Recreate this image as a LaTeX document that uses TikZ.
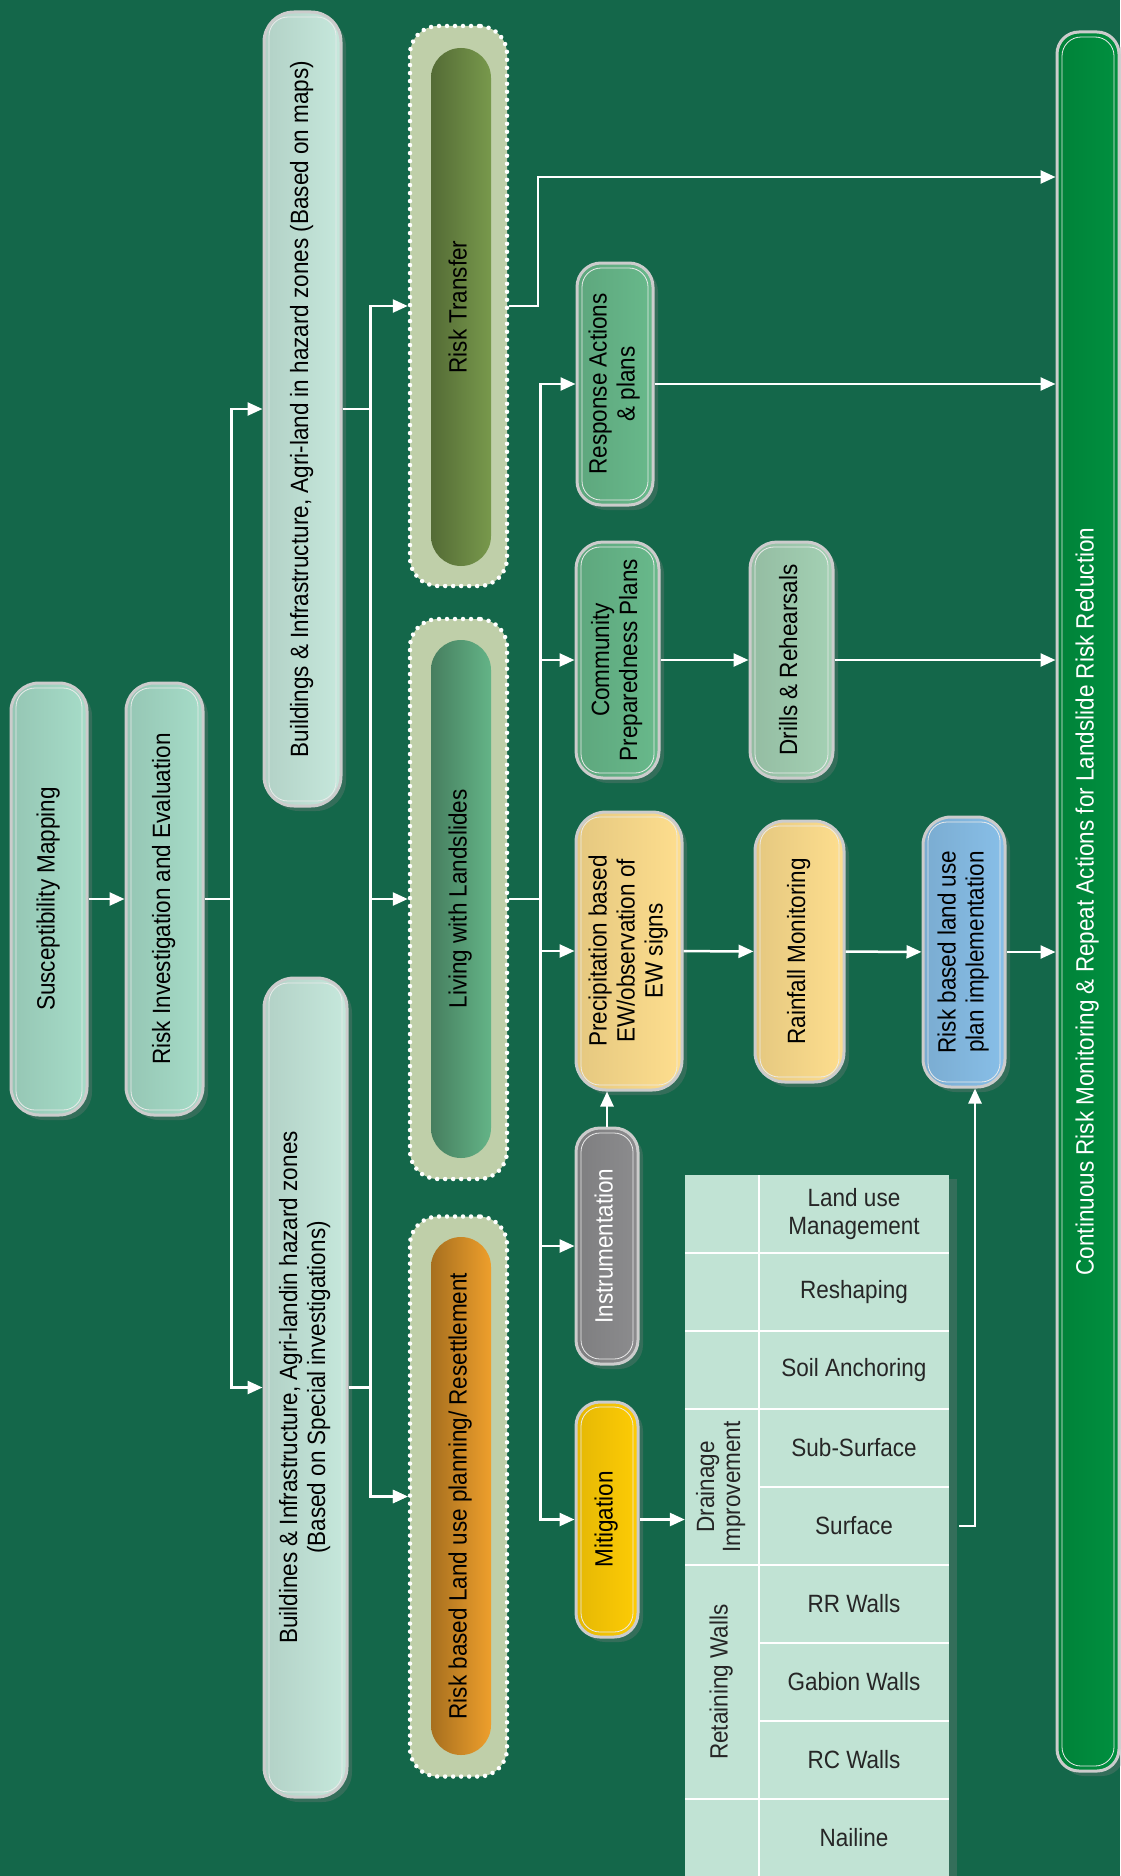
\documentclass[tikz,border=0pt]{standalone}
\usepackage{fontspec}
\setmainfont{Liberation Sans}
\newfontfamily\boxfont[FakeStretch=0.9]{Liberation Sans}
\usepackage{xcolor}
\usepackage{tikz}
\usetikzlibrary{arrows.meta,shadows}

\definecolor{bggreen}{HTML}{14674A}
\definecolor{aquaA}{HTML}{A6DCC8}
\definecolor{aquaB}{HTML}{C6E8DC}
\definecolor{sage}{HTML}{BFCFA9}
\definecolor{olive}{HTML}{78994C}
\definecolor{leaf}{HTML}{64B487}
\definecolor{amber}{HTML}{EE9F2C}
\definecolor{respgreen}{HTML}{68B98B}
\definecolor{mint}{HTML}{A4D1B4}
\definecolor{sand}{HTML}{FEDE8E}
\definecolor{sky}{HTML}{88BFE8}
\definecolor{slate}{HTML}{8C8C8E}
\definecolor{gold}{HTML}{FECC05}
\definecolor{tablecol}{HTML}{C1E3D4}
\definecolor{forest}{HTML}{00903F}

\newcommand{\vtext}[1]{\rotatebox{90}{\begin{tabular}{@{}c@{}}#1\end{tabular}}}

\begin{document}
\begin{tikzpicture}[x=1pt, y=-1pt, font=\boxfont\fontsize{25}{28}\selectfont,
    pill/.style={draw=black!20, line width=3pt, rounded corners=24pt, inner sep=0pt,
      text=black,
      drop shadow={shadow xshift=5pt, shadow yshift=-5pt, opacity=0.3},
      path picture={\draw[white!92!black, line width=0.8pt, rounded corners=19pt]
        ([shift={(5pt,-5pt)}]path picture bounding box.north west) rectangle
        ([shift={(-5pt,5pt)}]path picture bounding box.south east);}},
    tone/.style={left color=#1!90!black, middle color=#1!92!white, right color=#1},
    halo/.style={fill=sage, draw=white, line width=4.5pt, dash pattern=on 0pt off 8pt,
      line cap=round, rounded corners=28pt, minimum width=97, minimum height=560, inner sep=0pt},
    core/.style={rounded corners=30pt, minimum width=60, minimum height=518, inner sep=0pt,
      text=black, left color=#1!70!black, right color=#1},
    link/.style={draw=white, line width=2.5pt},
    arr/.style={link, -{Triangle[length=15pt, width=13pt]}},
    cell/.style={minimum width=190, minimum height=78, inner sep=0pt, align=center, text=black!85},
    tabline/.style={draw=white, line width=2pt}]

  \useasboundingbox (0,0) rectangle (1120,1876);
  \fill[bggreen] (0,0) rectangle (1120,1876);

  % first two steps
  \node[pill, tone=aquaA, minimum width=76, minimum height=432, rounded corners=28pt] (sm) at (49,899)
    {\vtext{Susceptibility Mapping}};
  \node[pill, tone=aquaA, minimum width=77, minimum height=432, rounded corners=28pt] (rie) at (164.5,899)
    {\vtext{Risk Investigation and Evaluation}};

  % buildings
  \node[pill, tone=aquaB, minimum width=77, minimum height=794, rounded corners=30pt] (bmap) at (302.5,409)
    {\vtext{Buildings \& Infrastructure, Agri-land in hazard zones (Based on maps)}};
  \node[pill, tone=aquaB, minimum width=83, minimum height=819, rounded corners=30pt] (bspec) at (305.5,1387.5)
    {\vtext{Buildines \& Infrastructure, Agri-landin hazard zones\\(Based on Special investigations)}};

  % dotted containers
  \node[halo] (rt) at (458.5,306) {};
  \node[core=olive] (rtc) at (461,307) {\vtext{Risk Transfer}};
  \node[halo] (lwl) at (458.5,899) {};
  \node[core=leaf] (lwlc) at (461,899) {\vtext{Living with Landslides}};
  \node[halo] (rlu) at (458.5,1496.5) {};
  \node[core=amber] (rluc) at (461,1496) {\vtext{Risk based Land use planning/ Resettlement}};

  % actions
  \node[pill, tone=respgreen, minimum width=76, minimum height=242] (resp) at (615,384)
    {\vtext{Response Actions\\\& plans}};
  \node[pill, tone=respgreen, minimum width=83, minimum height=236, rounded corners=27pt] (cpp) at (617.5,660)
    {\vtext{Community\\Preparedness Plans}};
  \node[pill, tone=mint, minimum width=83, minimum height=236, rounded corners=27pt] (drill) at (791.5,660)
    {\vtext{Drills \& Rehearsals}};
  \node[pill, tone=sand, minimum width=106, minimum height=278, rounded corners=30pt] (precip) at (629,951)
    {\vtext{Precipitation based\\EW/observation of\\EW signs}};
  \node[pill, tone=sand, minimum width=89, minimum height=261, rounded corners=30pt] (rain) at (799.5,951.5)
    {\vtext{Rainfall Monitoring}};
  \node[pill, tone=sky, minimum width=82, minimum height=270, rounded corners=28pt] (rlp) at (964,952)
    {\vtext{Risk based land use\\plan implementation}};
  \node[pill, tone=slate, text=white, minimum width=62, minimum height=236, rounded corners=24pt] (instr) at (607,1246)
    {\vtext{Instrumentation}};
  \node[pill, tone=gold, minimum width=62, minimum height=235, rounded corners=24pt] (mitig) at (607,1519.5)
    {\vtext{Mitigation}};
  \node[pill, tone=forest, text=white, minimum width=62, minimum height=1739, rounded corners=22pt] (crm) at (1088,901.5)
    {\vtext{Continuous Risk Monitoring \& Repeat Actions for Landslide Risk Reduction}};

  % mitigation table
  \node[fill=tablecol, minimum width=264, minimum height=705, inner sep=0pt,
    drop shadow={shadow xshift=8pt, shadow yshift=-4pt, opacity=0.3}] (tbl) at (817,1527.5) {};
  \foreach \k in {1,...,8}
    \draw[tabline] (759,{1175+78*\k}) -- (949,{1175+78*\k});
  \foreach \k in {1,2,3,5,8}
    \draw[tabline] (685,{1175+78*\k}) -- (759,{1175+78*\k});
  \draw[tabline] (759,1175) -- (759,1880);
  \foreach \lbl [count=\i] in {{Land use\\Management},Reshaping,{Soil Anchoring},Sub-Surface,
      Surface,{RR Walls},{Gabion Walls},{RC Walls},Nailine}
    \node[cell] (c\i) at (854,{1136+78*\i}) {\lbl};
  \node[text=black!85, inner sep=0pt] (drain) at (722,1487)
    {\fontsize{25}{26}\selectfont\vtext{Drainage\\Improvement}};
  \node[text=black!85, inner sep=0pt] (retw) at (722,1682) {\vtext{Retaining Walls}};

  % connectors
  \draw[arr] (sm) -- (rie);
  \draw[arr] (rie.east) -- ++(27,0) |- (bmap.west);
  \draw[arr] (rie.east) -- ++(27,0) |- (bspec.west);
  \draw[arr] (bmap.east) -- ++(28,0) |- (rt.west);
  \draw[arr] (bmap.east) -- ++(28,0) |- (lwl.west);
  \draw[arr] (bmap.east) -- ++(28,0) |- (rlu.west);
  \draw[arr] (bspec.east) -- ++(22,0) |- (rlu.west);

  \coordinate (rtup) at (538,177);
  \draw[arr] (rt.east) -| (rtup) -- (rtup -| crm.west);
  \foreach \t in {resp,cpp,precip,instr,mitig}
    \draw[arr] (lwl.east) -- ++(31,0) |- (\t.west);

  \draw[arr] (resp.east) -- (resp.east -| crm.west);
  \draw[arr] (cpp) -- (drill);
  \draw[arr] (drill.east) -- (drill.east -| crm.west);
  \draw[arr] (precip) -- (rain);
  \draw[arr] (rain) -- (rlp);
  \draw[arr] (rlp.east) -- (rlp.east -| crm.west);
  \draw[arr] (instr.north) -- (instr.north |- precip.south);
  \draw[arr] (mitig.east) -- (mitig.east -| tbl.west);
  \draw[arr] ([xshift=10pt]c5.east) -| ([xshift=11pt]rlp.south);
\end{tikzpicture}
\end{document}
